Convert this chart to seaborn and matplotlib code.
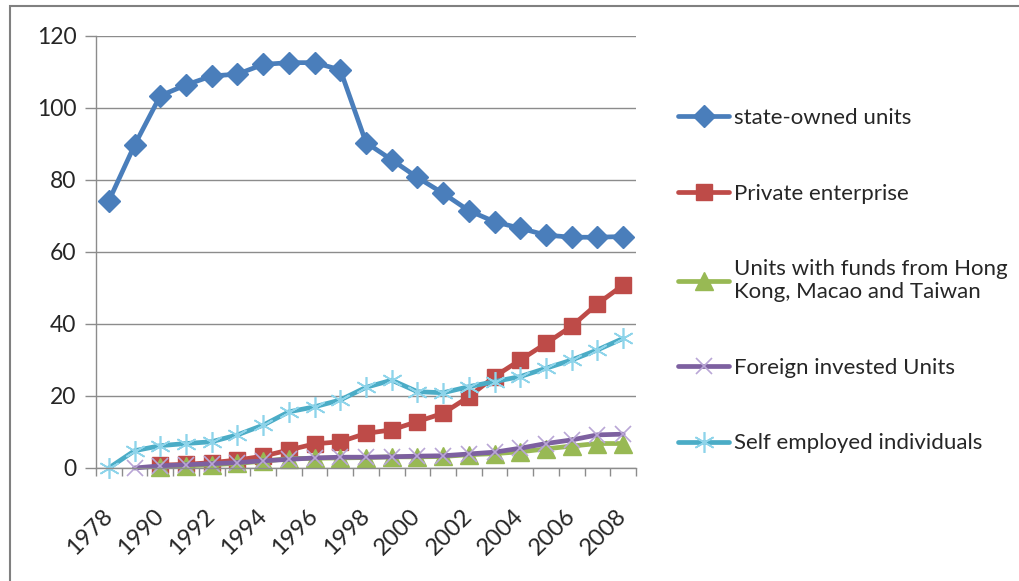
import pandas as pd
import seaborn as sns
import matplotlib.pyplot as plt
from matplotlib.patches import Rectangle

nan = float('nan')

# categories (x axis)
years = ['1978', '1989', '1990', '1991', '1992', '1993', '1994', '1995', '1996', '1997',
         '1998', '1999', '2000', '2001', '2002', '2003', '2004', '2005', '2006', '2007', '2008']

# values
state_owned = [74.2, 89.7, 103.4, 106.4, 108.9, 109.4, 112.1, 112.6, 112.6, 110.6,
               90.4, 85.6, 80.7, 76.3, 71.5, 68.4, 66.6, 64.7, 64.1, 64.1, 64.3]
private = [nan, nan, 0.8, 1.0, 1.5, 2.2, 3.3, 5.0, 6.7, 7.3,
           9.6, 10.6, 12.9, 15.2, 19.8, 25.4, 30.0, 34.6, 39.4, 45.6, 50.8]
hk_macao_taiwan = [nan, nan, 0.3, 0.6, 0.9, 1.3, 1.9, 2.6, 2.7, 2.8,
                   2.9, 3.1, 3.1, 3.2, 3.7, 4.0, 4.5, 5.3, 6.1, 6.8, 6.8]
foreign = [nan, 0.0, 0.6, 0.9, 1.2, 1.5, 2.0, 2.4, 2.8, 3.0,
           3.0, 3.1, 3.3, 3.4, 3.9, 4.4, 5.5, 6.8, 7.8, 9.2, 9.4]
self_employed = [0.0, 4.8, 6.2, 6.8, 7.3, 9.2, 11.9, 15.6, 17.0, 18.9,
                 22.4, 24.4, 21.2, 20.9, 22.6, 24.0, 25.4, 27.7, 30.0, 32.8, 36.0]

labels = ['state-owned units', 'Private enterprise',
          'Units with funds from Hong\nKong, Macao and Taiwan',
          'Foreign invested Units', 'Self employed individuals']

sns.set_style('white')
plt.rcParams['font.family'] = ['Lato', 'DejaVu Sans']

fig = plt.figure(figsize=(10.2, 5.81), dpi=100)
ax = fig.add_axes([96 / 1020, 1 - 468 / 581, 540 / 1020, 432 / 581])

# name, values, line colour, marker, size, face, edge, edge width
styles = [
    (labels[0], state_owned, '#4A7EBB', 'D', 11, '#4A7EBB', '#4A7EBB', 1),
    (labels[1], private, '#BE4B48', 's', 11.5, '#BE4B48', '#BE4B48', 1),
    (labels[2], hk_macao_taiwan, '#98B954', '^', 12.5, '#98B954', '#98B954', 1),
    (labels[3], foreign, '#7D60A0', 'x', 11.5, '#B9A6D6', '#B9A6D6', 1.2),
    (labels[4], self_employed, '#4BACC6', (6, 2, 0), 15, '#8ED4EA', '#8ED4EA', 1.2),
]

for name, vals, col, mk, ms, mfc, mec, mew in styles:
    df = pd.DataFrame({'year': years, 'value': vals})
    sns.lineplot(data=df, x='year', y='value', ax=ax, color=col, lw=3.4,
                 marker=mk, markersize=ms, markerfacecolor=mfc,
                 markeredgecolor=mec, markeredgewidth=mew, label=name,
                 clip_on=False)

ax.set_xlabel('')
ax.set_ylabel('')
ax.set_xlim(-0.5, 20.5)
ax.set_ylim(0, 120)
ax.set_yticks(range(0, 121, 20))
ax.set_xticks(range(0, 21, 2))
ax.set_xticklabels(years[::2])
ax.set_xticks([i - 0.5 for i in range(22)], minor=True)

ax.yaxis.grid(True, color='#8c8c8c', lw=1)
ax.set_axisbelow(True)
for s in ['top', 'right']:
    ax.spines[s].set_visible(False)
for s in ['left', 'bottom']:
    ax.spines[s].set_color('#8c8c8c')
    ax.spines[s].set_linewidth(1)

ax.tick_params(axis='y', length=8, width=1, color='#8c8c8c', labelsize=16.5, pad=6,
               left=True)
ax.tick_params(axis='x', which='major', length=0, labelsize=17, pad=32)
ax.tick_params(axis='x', which='minor', length=6, width=1, color='#8c8c8c',
               bottom=True)
for t in ax.get_xticklabels():
    t.set_rotation(45)
    t.set_ha('right')
    t.set_va('center')
    t.set_rotation_mode('anchor')

handles, labs = ax.get_legend_handles_labels()
ax.legend(handles, labs, loc='upper left',
          bbox_to_anchor=(678 / 1020, 1 - 108 / 581),
          bbox_transform=fig.transFigure, frameon=False, fontsize=16,
          borderpad=0, borderaxespad=0, handlelength=2.3, handletextpad=0.2,
          labelspacing=2.5)

# outer chart border
fig.patches.append(Rectangle((10 / 1020, -0.1), 1.2, 1.1 - 6 / 581,
                             transform=fig.transFigure, fill=False,
                             edgecolor='#808080', lw=1.5))

fig.savefig('out.png', dpi=100)
